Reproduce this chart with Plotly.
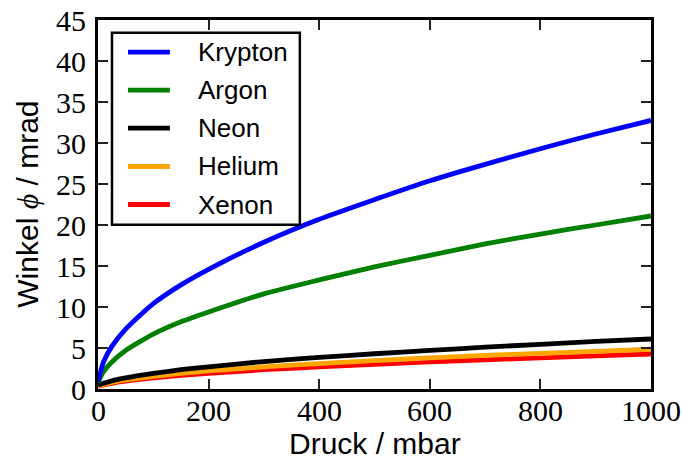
import plotly.graph_objects as go

# Pressure grid (mbar) and deflection angles (mrad) per gas
druck = [0, 10, 25, 50, 100, 150, 200, 300, 400, 500, 600, 700, 800, 900, 1000]

krypton = [0.9, 3.3, 5.2, 7.3, 10.4, 12.7, 14.6, 17.9, 20.7, 23.1, 25.4, 27.4, 29.3, 31.1, 32.75]
argon = [0.8, 2.1, 3.3, 4.7, 6.7, 8.2, 9.4, 11.6, 13.3, 14.9, 16.3, 17.7, 18.9, 20.0, 21.1]
neon = [0.5, 0.7, 1.0, 1.35, 1.9, 2.35, 2.7, 3.35, 3.85, 4.3, 4.7, 5.1, 5.45, 5.8, 6.1]
helium = [0.4, 0.55, 0.8, 1.1, 1.55, 1.9, 2.2, 2.7, 3.1, 3.45, 3.8, 4.1, 4.35, 4.6, 4.85]
xenon = [0.35, 0.5, 0.7, 0.95, 1.35, 1.65, 1.9, 2.35, 2.7, 3.0, 3.3, 3.55, 3.8, 4.05, 4.27]

series = [
    ("Krypton", krypton, "#0000ff"),
    ("Argon", argon, "#008000"),
    ("Neon", neon, "#000000"),
    ("Helium", helium, "#ffa500"),
    ("Xenon", xenon, "#ff0000"),
]

x_ticks = [0, 200, 400, 600, 800, 1000]
y_ticks = [0, 5, 10, 15, 20, 25, 30, 35, 40, 45]

SERIF = "Liberation Serif"
SANS = "Liberation Sans"

fig = go.Figure()
# Draw in reverse so Krypton ends up on top, like the legend order
for name, vals, col in reversed(series):
    fig.add_trace(go.Scatter(
        x=druck, y=vals, mode="lines", name=name,
        line=dict(color=col, width=4.8, shape="spline", smoothing=0.6),
        showlegend=False,
    ))


def axis_style(rng, tickvals):
    return dict(
        range=rng, tickvals=tickvals, autorange=False,
        showline=True, linecolor="black", linewidth=2.5, mirror="ticks",
        ticks="inside", ticklen=10, tickwidth=1.5, tickcolor="#222",
        showgrid=False, zeroline=False, automargin=False,
        showticklabels=False,
    )


shapes = []
annotations = []

# Serif tick labels placed on the axes' own data coordinates
for v in x_ticks:
    annotations.append(dict(xref="x", yref="paper", x=v, y=0, yshift=-21,
                            text=str(v), showarrow=False,
                            xanchor="center", yanchor="middle",
                            font=dict(family=SERIF, size=30, color="black")))
for v in y_ticks:
    annotations.append(dict(xref="paper", yref="y", x=0, y=v, xshift=-10,
                            text=str(v), showarrow=False,
                            xanchor="right", yanchor="middle",
                            font=dict(family=SERIF, size=30, color="black")))

# Legend box
shapes.append(dict(type="rect", xref="paper", yref="paper",
                   x0=0.0253, x1=0.365, y0=0.445, y1=0.9656,
                   line=dict(color="black", width=2.5), fillcolor="white", layer="above"))
row_y = [0.913, 0.810, 0.707, 0.603, 0.500]
for (name, vals, col), yy in zip(series, row_y):
    shapes.append(dict(type="line", xref="paper", yref="paper",
                       x0=0.0542, x1=0.130, y0=yy, y1=yy,
                       line=dict(color=col, width=4.8), layer="above"))
    annotations.append(dict(xref="paper", yref="paper", x=0.177, y=yy,
                            text=name, showarrow=False, xanchor="left", yanchor="middle",
                            font=dict(family=SANS, size=26, color="black")))

# Axis titles
annotations.append(dict(xref="paper", yref="paper", x=0.501, y=-0.148,
                        text="Druck / mbar", showarrow=False,
                        xanchor="center", yanchor="middle",
                        font=dict(family=SANS, size=30, color="black")))
annotations.append(dict(xref="paper", yref="paper", x=-0.128, y=0.50,
                        text="Winkel <span style='font-family:Liberation Serif;font-style:italic'>ϕ</span> / mrad",
                        showarrow=False, textangle=-90,
                        xanchor="center", yanchor="middle",
                        font=dict(family=SANS, size=30, color="black")))

fig.update_layout(
    width=683, height=461,
    margin=dict(l=98, r=32, t=20, b=72),
    paper_bgcolor="white", plot_bgcolor="white",
    xaxis=axis_style([0, 1000], x_ticks),
    yaxis=axis_style([0, 45], y_ticks),
    shapes=shapes, annotations=annotations,
    showlegend=False,
)

fig.write_html("out.html")
